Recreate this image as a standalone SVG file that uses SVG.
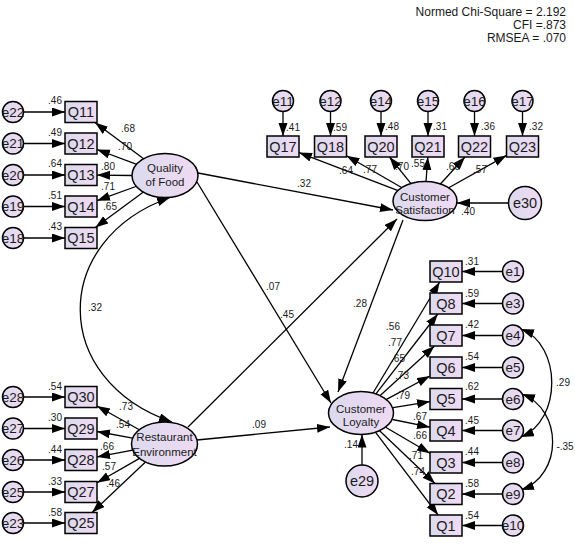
<svg xmlns="http://www.w3.org/2000/svg" width="575" height="544" viewBox="0 0 575 544">
<defs>
<linearGradient id="fg" x1="0" y1="0" x2="1" y2="0">
<stop offset="0" stop-color="#dcdaee"/>
<stop offset="1" stop-color="#efdaf3"/>
</linearGradient>
<marker id="ah" markerUnits="userSpaceOnUse" markerWidth="14" markerHeight="10" refX="13" refY="4.5" orient="auto-start-reverse">
<path d="M0,0 L13,4.5 L0,9 z" fill="#000"/>
</marker>
<style>
.sh{fill:url(#fg);stroke:#000;stroke-width:1.5}
.q{font-family:"Liberation Sans",Arial,sans-serif;font-size:14.5px;text-anchor:middle;fill:#1a1a1a}
.e{font-family:"Liberation Sans",Arial,sans-serif;font-size:13.5px;text-anchor:middle;fill:#1a1a1a}
.lt{font-family:"Liberation Sans",Arial,sans-serif;font-size:11.5px;text-anchor:middle;fill:#1a1a1a}
.lb{font-family:"Liberation Sans",Arial,sans-serif;font-size:10px;text-anchor:middle;fill:#1a1a1a}
.hd{font-family:"Liberation Sans",Arial,sans-serif;font-size:12px;text-anchor:end;fill:#1a1a1a}
.c{stroke:#000;stroke-width:1.3;fill:none;marker-end:url(#ah)}
.b{stroke:#000;stroke-width:1.3;fill:none;marker-start:url(#ah);marker-end:url(#ah)}
</style>
</defs>
<rect width="575" height="544" fill="#fff"/>

<g id="header">
<text class="hd" x="566" y="16">Normed Chi-Square = 2.192</text>
<text class="hd" x="566" y="29">CFI =.873</text>
<text class="hd" x="566" y="42">RMSEA = .070</text>
</g>

<g id="connectors">
<path class="c" d="M23.5,112 L65,112"/>
<path class="c" d="M23.5,143.5 L65,143.5"/>
<path class="c" d="M23.5,175 L65,175"/>
<path class="c" d="M23.5,206.5 L65,206.5"/>
<path class="c" d="M23.5,238 L65,238"/>
<path class="c" d="M23.5,397 L65,397"/>
<path class="c" d="M23.5,428.5 L65,428.5"/>
<path class="c" d="M23.5,460 L65,460"/>
<path class="c" d="M23.5,492 L65,492"/>
<path class="c" d="M23.5,523 L65,523"/>
<path class="c" d="M283,111.5 L283,136"/>
<path class="c" d="M330.5,111.5 L330.5,136"/>
<path class="c" d="M381,111.5 L381,136"/>
<path class="c" d="M428,111.5 L428,136"/>
<path class="c" d="M474.5,111.5 L474.5,136"/>
<path class="c" d="M522.5,111.5 L522.5,136"/>
<path class="c" d="M502.5,271.5 L462,271.5"/>
<path class="c" d="M502.5,303.5 L462,303.5"/>
<path class="c" d="M502.5,335.5 L462,335.5"/>
<path class="c" d="M502.5,367.5 L462,367.5"/>
<path class="c" d="M502.5,399 L462,399"/>
<path class="c" d="M502.5,430.5 L462,430.5"/>
<path class="c" d="M502.5,462.5 L462,462.5"/>
<path class="c" d="M502.5,494 L462,494"/>
<path class="c" d="M502.5,525.5 L462,525.5"/>
<path class="c" d="M144.3,159.3 L95,122.5"/>
<path class="c" d="M137.4,164.7 L97,149.5"/>
<path class="c" d="M132,175.5 L97,175.1"/>
<path class="c" d="M137.2,186 L97,200.7"/>
<path class="c" d="M144.1,191.6 L95.3,227.5"/>
<path class="c" d="M139.3,429.8 L97,406"/>
<path class="c" d="M132.7,438.1 L97,431.5"/>
<path class="c" d="M132.8,450.1 L97,456.9"/>
<path class="c" d="M139.5,458.4 L97,482.8"/>
<path class="c" d="M145.5,462 L92.1,512.5"/>
<path class="c" d="M398.1,190.7 L299,152.6"/>
<path class="c" d="M402,187.8 L346.5,155.7"/>
<path class="c" d="M411.2,183.9 L389.5,157"/>
<path class="c" d="M426,182 L427.8,157"/>
<path class="c" d="M440.2,184.3 L465,157"/>
<path class="c" d="M448.3,188 L506.5,155.4"/>
<path class="c" d="M373,393 L439.7,282"/>
<path class="c" d="M375.9,393.8 L437.8,314"/>
<path class="c" d="M380.2,395.5 L434.5,346"/>
<path class="c" d="M386.5,399.4 L430,376"/>
<path class="c" d="M393,407.7 L430,401.6"/>
<path class="c" d="M392.5,419.5 L430,427.2"/>
<path class="c" d="M385.6,427.3 L430,453.2"/>
<path class="c" d="M379.6,430.7 L435,483.5"/>
<path class="c" d="M375.6,432.3 L438.1,515"/>
<path class="c" d="M198,173 L393,210"/>
<path class="c" d="M197,182 L331,403"/>
<path class="c" d="M188,427 L397,219"/>
<path class="c" d="M197,440 L330,427"/>
<path class="c" d="M403,220 L338,392"/>
<path class="c" d="M508.5,203 L457,203"/>
<path class="c" d="M362,465 L362,434.5"/>
<path class="b" d="M170,197.5 C50,240 50,380 172,422"/>
<path class="b" d="M521,329 C562,345 562,420 521,437"/>
<path class="b" d="M522,394 C563,410 563,475 521,490"/>
</g>

<g id="labels">
<text class="lb" x="55" y="104">.46</text>
<text class="lb" x="55" y="136">.49</text>
<text class="lb" x="55" y="167">.64</text>
<text class="lb" x="55" y="199">.51</text>
<text class="lb" x="55" y="230">.43</text>
<text class="lb" x="55" y="390">.54</text>
<text class="lb" x="55" y="421">.30</text>
<text class="lb" x="55" y="453">.44</text>
<text class="lb" x="55" y="485">.33</text>
<text class="lb" x="55" y="516">.58</text>
<text class="lb" x="128" y="132">.68</text>
<text class="lb" x="125" y="150">.70</text>
<text class="lb" x="108" y="170">.80</text>
<text class="lb" x="108" y="190">.71</text>
<text class="lb" x="110" y="210">.65</text>
<text class="lb" x="126" y="410">.73</text>
<text class="lb" x="123" y="428">.54</text>
<text class="lb" x="107" y="450">.66</text>
<text class="lb" x="109" y="470">.57</text>
<text class="lb" x="113" y="487">.46</text>
<text class="lb" x="293" y="131">.41</text>
<text class="lb" x="340" y="131">.59</text>
<text class="lb" x="392" y="130">.48</text>
<text class="lb" x="440" y="130">.31</text>
<text class="lb" x="488" y="130">.36</text>
<text class="lb" x="536" y="130">.32</text>
<text class="lb" x="346" y="174">.64</text>
<text class="lb" x="370" y="173">.77</text>
<text class="lb" x="402" y="170">.70</text>
<text class="lb" x="418" y="167">.55</text>
<text class="lb" x="453" y="170">.60</text>
<text class="lb" x="480" y="173">.57</text>
<text class="lb" x="472" y="265">.31</text>
<text class="lb" x="472" y="297">.59</text>
<text class="lb" x="472" y="328">.42</text>
<text class="lb" x="472" y="360">.54</text>
<text class="lb" x="472" y="390">.62</text>
<text class="lb" x="472" y="424">.45</text>
<text class="lb" x="472" y="455">.44</text>
<text class="lb" x="472" y="487">.58</text>
<text class="lb" x="472" y="519">.54</text>
<text class="lb" x="393" y="330">.56</text>
<text class="lb" x="395" y="346">.77</text>
<text class="lb" x="398" y="362">.65</text>
<text class="lb" x="402" y="379">.73</text>
<text class="lb" x="403" y="399">.79</text>
<text class="lb" x="420" y="420">.67</text>
<text class="lb" x="420" y="439">.66</text>
<text class="lb" x="416" y="459">.71</text>
<text class="lb" x="418" y="475">.74</text>
<text class="lb" x="304" y="187">.32</text>
<text class="lb" x="273" y="290">.07</text>
<text class="lb" x="287" y="318">.45</text>
<text class="lb" x="360" y="307">.28</text>
<text class="lb" x="259" y="428">.09</text>
<text class="lb" x="468" y="215">.40</text>
<text class="lb" x="351" y="448">.14</text>
<text class="lb" x="95" y="311">.32</text>
<text class="lb" x="563" y="386">.29</text>
<text class="lb" x="565" y="450">-.35</text>
</g>

<g id="QualityOfFood"><ellipse class="sh" cx="165" cy="175.5" rx="33" ry="22"/><text class="lt" x="165" y="172">Quality</text><text class="lt" x="165" y="186">of Food</text></g>
<g id="RestaurantEnvironment"><ellipse class="sh" cx="164.5" cy="444" rx="33" ry="22"/><text class="lt" x="164.5" y="440.5">Restaurant</text><text class="lt" x="164.5" y="455.5">Environment</text></g>
<g id="CustomerSatisfaction"><ellipse class="sh" cx="425" cy="201" rx="32" ry="19.5"/><text class="lt" x="425" y="200.5">Customer</text><text class="lt" x="425" y="214">Satisfaction</text></g>
<g id="CustomerLoyalty"><ellipse class="sh" cx="361" cy="413" rx="32.5" ry="21.5"/><text class="lt" x="361" y="412.5">Customer</text><text class="lt" x="361" y="425.5">Loyalty</text></g>

<g id="Q11"><rect class="sh" x="65" y="101.5" width="32" height="21"/><text class="q" x="81" y="117">Q11</text></g>
<g id="Q12"><rect class="sh" x="65" y="133" width="32" height="21"/><text class="q" x="81" y="148.5">Q12</text></g>
<g id="Q13"><rect class="sh" x="65" y="164.5" width="32" height="21"/><text class="q" x="81" y="180">Q13</text></g>
<g id="Q14"><rect class="sh" x="65" y="196" width="32" height="21"/><text class="q" x="81" y="211.5">Q14</text></g>
<g id="Q15"><rect class="sh" x="65" y="227.5" width="32" height="21"/><text class="q" x="81" y="243">Q15</text></g>
<g id="Q30"><rect class="sh" x="65" y="386.5" width="32" height="21"/><text class="q" x="81" y="402">Q30</text></g>
<g id="Q29"><rect class="sh" x="65" y="418" width="32" height="21"/><text class="q" x="81" y="433.5">Q29</text></g>
<g id="Q28"><rect class="sh" x="65" y="449.5" width="32" height="21"/><text class="q" x="81" y="465">Q28</text></g>
<g id="Q27"><rect class="sh" x="65" y="481.5" width="32" height="21"/><text class="q" x="81" y="497">Q27</text></g>
<g id="Q25"><rect class="sh" x="65" y="512.5" width="32" height="21"/><text class="q" x="81" y="528">Q25</text></g>

<g id="Q17"><rect class="sh" x="267" y="136" width="32" height="21"/><text class="q" x="283" y="151.5">Q17</text></g>
<g id="Q18"><rect class="sh" x="314.5" y="136" width="32" height="21"/><text class="q" x="330.5" y="151.5">Q18</text></g>
<g id="Q20"><rect class="sh" x="365" y="136" width="32" height="21"/><text class="q" x="381" y="151.5">Q20</text></g>
<g id="Q21"><rect class="sh" x="412" y="136" width="32" height="21"/><text class="q" x="428" y="151.5">Q21</text></g>
<g id="Q22"><rect class="sh" x="458.5" y="136" width="32" height="21"/><text class="q" x="474.5" y="151.5">Q22</text></g>
<g id="Q23"><rect class="sh" x="506.5" y="136" width="32" height="21"/><text class="q" x="522.5" y="151.5">Q23</text></g>

<g id="Q10"><rect class="sh" x="430" y="261" width="32" height="21"/><text class="q" x="446" y="276.5">Q10</text></g>
<g id="Q8"><rect class="sh" x="430" y="293" width="32" height="21"/><text class="q" x="446" y="308.5">Q8</text></g>
<g id="Q7"><rect class="sh" x="430" y="325" width="32" height="21"/><text class="q" x="446" y="340.5">Q7</text></g>
<g id="Q6"><rect class="sh" x="430" y="357" width="32" height="21"/><text class="q" x="446" y="372.5">Q6</text></g>
<g id="Q5"><rect class="sh" x="430" y="388.5" width="32" height="21"/><text class="q" x="446" y="404">Q5</text></g>
<g id="Q4"><rect class="sh" x="430" y="420" width="32" height="21"/><text class="q" x="446" y="435.5">Q4</text></g>
<g id="Q3"><rect class="sh" x="430" y="452" width="32" height="21"/><text class="q" x="446" y="467.5">Q3</text></g>
<g id="Q2"><rect class="sh" x="430" y="483.5" width="32" height="21"/><text class="q" x="446" y="499">Q2</text></g>
<g id="Q1"><rect class="sh" x="430" y="515" width="32" height="21"/><text class="q" x="446" y="530.5">Q1</text></g>

<g id="e22"><circle class="sh" cx="13" cy="112" r="10.5"/><text class="e" x="13" y="116.5">e22</text></g>
<g id="e21"><circle class="sh" cx="13" cy="143.5" r="10.5"/><text class="e" x="13" y="148">e21</text></g>
<g id="e20"><circle class="sh" cx="13" cy="175" r="10.5"/><text class="e" x="13" y="179.5">e20</text></g>
<g id="e19"><circle class="sh" cx="13" cy="206.5" r="10.5"/><text class="e" x="13" y="211">e19</text></g>
<g id="e18"><circle class="sh" cx="13" cy="238" r="10.5"/><text class="e" x="13" y="242.5">e18</text></g>
<g id="e28"><circle class="sh" cx="13" cy="397" r="10.5"/><text class="e" x="13" y="401.5">e28</text></g>
<g id="e27"><circle class="sh" cx="13" cy="428.5" r="10.5"/><text class="e" x="13" y="433">e27</text></g>
<g id="e26"><circle class="sh" cx="13" cy="460" r="10.5"/><text class="e" x="13" y="464.5">e26</text></g>
<g id="e25"><circle class="sh" cx="13" cy="492" r="10.5"/><text class="e" x="13" y="496.5">e25</text></g>
<g id="e23"><circle class="sh" cx="13" cy="523" r="10.5"/><text class="e" x="13" y="527.5">e23</text></g>

<g id="e11"><circle class="sh" cx="283" cy="101" r="10.5"/><text class="e" x="283" y="105.5">e11</text></g>
<g id="e12"><circle class="sh" cx="330.5" cy="101" r="10.5"/><text class="e" x="330.5" y="105.5">e12</text></g>
<g id="e14"><circle class="sh" cx="381" cy="101" r="10.5"/><text class="e" x="381" y="105.5">e14</text></g>
<g id="e15"><circle class="sh" cx="428" cy="101" r="10.5"/><text class="e" x="428" y="105.5">e15</text></g>
<g id="e16"><circle class="sh" cx="474.5" cy="101" r="10.5"/><text class="e" x="474.5" y="105.5">e16</text></g>
<g id="e17"><circle class="sh" cx="522.5" cy="101" r="10.5"/><text class="e" x="522.5" y="105.5">e17</text></g>

<g id="e1"><circle class="sh" cx="513" cy="271.5" r="10.5"/><text class="e" x="513" y="276">e1</text></g>
<g id="e3"><circle class="sh" cx="513" cy="303.5" r="10.5"/><text class="e" x="513" y="308">e3</text></g>
<g id="e4"><circle class="sh" cx="513" cy="335.5" r="10.5"/><text class="e" x="513" y="340">e4</text></g>
<g id="e5"><circle class="sh" cx="513" cy="367.5" r="10.5"/><text class="e" x="513" y="372">e5</text></g>
<g id="e6"><circle class="sh" cx="513" cy="399" r="10.5"/><text class="e" x="513" y="403.5">e6</text></g>
<g id="e7"><circle class="sh" cx="513" cy="430.5" r="10.5"/><text class="e" x="513" y="435">e7</text></g>
<g id="e8"><circle class="sh" cx="513" cy="462.5" r="10.5"/><text class="e" x="513" y="467">e8</text></g>
<g id="e9"><circle class="sh" cx="513" cy="494" r="10.5"/><text class="e" x="513" y="498.5">e9</text></g>
<g id="e10"><circle class="sh" cx="513" cy="525.5" r="10.5"/><text class="e" x="513" y="530">e10</text></g>

<g id="e30"><circle class="sh" cx="525" cy="203" r="16.5"/><text class="q" x="525" y="208">e30</text></g>
<g id="e29"><circle class="sh" cx="362" cy="481" r="16"/><text class="q" x="362" y="486">e29</text></g>
</svg>
